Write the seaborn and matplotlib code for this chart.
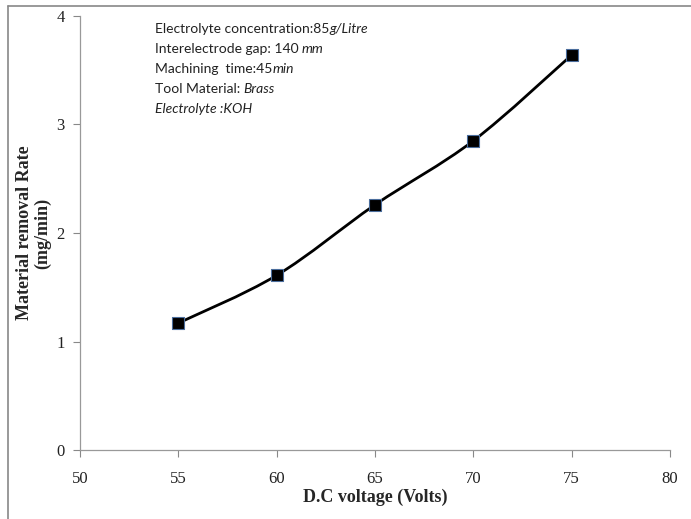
import numpy as np
import pandas as pd
import matplotlib
matplotlib.use("Agg")
import matplotlib.pyplot as plt
from matplotlib.path import Path
from matplotlib.patches import PathPatch
from matplotlib.lines import Line2D
import seaborn as sns

voltage = [55, 60, 65, 70, 75]
mrr = [1.17, 1.61, 2.26, 2.85, 3.64]
x_ticks = [50, 55, 60, 65, 70, 75, 80]
y_ticks = [0, 1, 2, 3, 4]
notes = [
    ("Electrolyte concentration:85", "g/Litre"),
    ("Interelectrode gap: 140 ", "mm"),
    ("Machining  time:45", "min"),
    ("Tool Material: ", "Brass"),
    ("", "Electrolyte :KOH"),
]

df = pd.DataFrame({"voltage": voltage, "mrr": mrr})

sns.set_theme(style="white")
plt.rcParams["font.family"] = ["Liberation Serif", "DejaVu Serif"]

fig = plt.figure(figsize=(6.91, 5.19), dpi=100)
ax = fig.add_axes([0.1158, 0.1329, 0.8538, 0.8363])

# smoothed line like Excel (Catmull-Rom as cubic Bezier)
pts = np.column_stack([voltage, mrr]).astype(float)
ext = np.vstack([pts[0], pts, pts[-1]])
verts = [tuple(pts[0])]
codes = [Path.MOVETO]
for i in range(len(pts) - 1):
    p0, p1, p2, p3 = ext[i], ext[i + 1], ext[i + 2], ext[i + 3]
    c1 = p1 + (p2 - p0) / 6
    c2 = p2 - (p3 - p1) / 6
    verts += [tuple(c1), tuple(c2), tuple(p2)]
    codes += [Path.CURVE4] * 3
ax.add_patch(PathPatch(Path(verts, codes), fill=False, edgecolor="black", lw=2.0, zorder=2))

sns.scatterplot(data=df, x="voltage", y="mrr", ax=ax, marker="s", s=75,
                color="black", edgecolor="#4a6d9c", linewidth=0.8, zorder=3, legend=False)

ax.set_xlim(50, 80)
ax.set_ylim(0, 4)
ax.set_xticks(x_ticks)
ax.set_yticks(y_ticks)
ax.tick_params(axis="both", direction="out", length=5, width=0.8, color="#888888",
               labelsize=12, labelcolor="#222222", left=True, bottom=True, pad=6)
ax.tick_params(axis="x", pad=10)
for s in ["top", "right"]:
    ax.spines[s].set_visible(False)
for s in ["left", "bottom"]:
    ax.spines[s].set_color("#999999")
    ax.spines[s].set_linewidth(0.9)

ax.set_xlabel("D.C voltage (Volts)", fontsize=13, fontweight="bold", labelpad=1)
ax.set_ylabel("Material removal Rate\n(mg/min)", fontsize=13, fontweight="bold", labelpad=4,
              linespacing=1.05)

# annotation block
y0 = 0.955
for i, (plain, ital) in enumerate(notes):
    yy = y0 - i * 0.0385
    t = fig.text(0.224, yy, plain, fontsize=10, family=["Lato", "DejaVu Sans"],
                 va="top", color="#222222")
    fig.canvas.draw()
    bb = t.get_window_extent()
    x_it = bb.x1 / fig.bbox.width if plain else 0.224
    fig.text(x_it, yy, ital, fontsize=10, family=["Lato", "DejaVu Sans"], style="italic",
             va="top", color="#222222")

# partial outer frame (top and left edges visible)
fig.add_artist(Line2D([0.012, 1.0], [0.988, 0.988], transform=fig.transFigure,
                      color="#888888", lw=1.2))
fig.add_artist(Line2D([0.012, 0.012], [0.0, 0.988], transform=fig.transFigure,
                      color="#888888", lw=1.2))

fig.savefig("out.png", dpi=100)
